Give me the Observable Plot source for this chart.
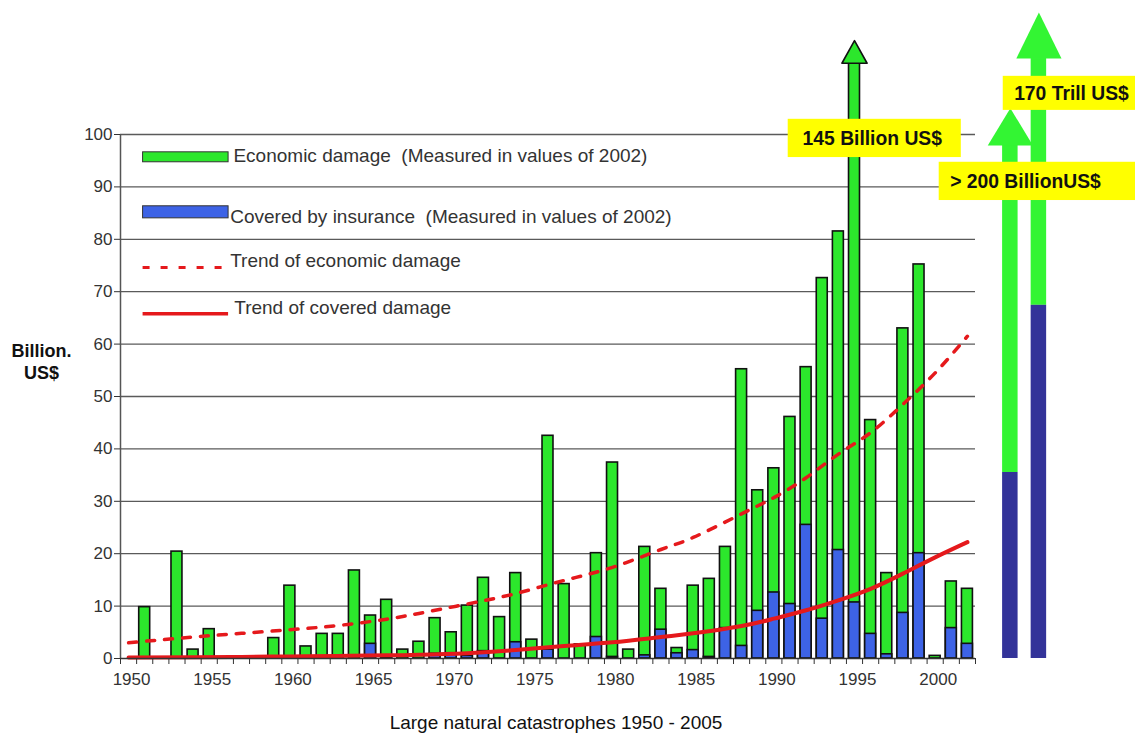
<!DOCTYPE html>
<html><head><meta charset="utf-8">
<script src="https://cdn.jsdelivr.net/npm/d3@7"></script>
<script src="https://cdn.jsdelivr.net/npm/@observablehq/plot@0.6"></script>
<style>
html,body{margin:0;padding:0;background:#fff;}
#chart svg{display:block;overflow:visible;}
</style>
</head><body><div id="chart"></div>
<script>
// ---------- data ----------
const barYears = [1951,1953,1954,1955,1959,1960,1961,1962,1963,1964,1965,1966,1967,1968,1969,1970,1971,1972,1973,1974,1975,1976,1977,1978,1979,1980,1981,1982,1983,1984,1985,1986,1987,1988,1989,1990,1991,1992,1993,1994,1995,1996,1997,1998,1999,2000,2001,2002];
const economic = [9.8,20.4,1.7,5.6,3.9,13.9,2.3,4.7,4.7,16.8,8.2,11.2,1.7,3.2,7.7,5.0,10.1,15.4,7.9,16.3,3.6,42.5,14.2,2.7,20.1,37.4,1.7,21.3,13.3,2.0,13.9,15.2,21.3,55.2,32.1,36.3,46.1,55.6,72.6,81.5,145,45.5,16.3,63.0,75.2,0.5,14.7,13.3];
const insured = [0,0,0,0,0,0,0,0,0,0,2.8,0.3,0,0,0.9,1.0,0.5,1.4,0,3.1,0,1.7,0,0,4.1,0.3,0,0.6,5.5,1.0,1.6,0.3,5.8,2.4,9.1,12.6,10.4,25.5,7.6,20.7,10.7,4.7,0.8,8.7,20.1,0,5.8,2.8];

const trendYears = [1950,1954,1957,1960,1963,1966,1968,1971,1974,1977,1980,1983,1985,1988,1990,1992,1994,1996,1998,2000,2002];
const trendEconomic = [3.0,4.1,4.8,5.5,6.3,7.5,8.6,10.4,12.4,14.9,17.4,20.8,23.1,27.6,30.7,34.5,39.0,43.1,48.5,54.5,61.5];
const trendCovered = [0.2,0.25,0.3,0.4,0.5,0.6,0.7,1.0,1.6,2.4,3.1,4.1,4.8,6.2,7.6,9.2,11.1,13.3,16.2,19.3,22.2];

const yTicks = [0,10,20,30,40,50,60,70,80,90,100];
const xTickLabels = [1950,1955,1960,1965,1970,1975,1980,1985,1990,1995,2000];

const legendLabels = ["Economic damage  (Measured in values of 2002)", "Covered by insurance  (Measured in values of 2002)", "Trend of economic damage", "Trend of covered damage"];

// off-scale comparison arrows on the right
const extraLabels = ["> 200 BillionUS$", "170 Trill US$"];
const extraInsured = [35.5, 67.4];
const peakLabel = "145 Billion US$";

const yTitle = "Billion.\nUS$";
const xTitle = "Large natural catastrophes 1950 - 2005";

// ---------- layout (data-space anchors, not data) ----------
const C = {green:"#2ce72c", blue:"#3d63e6", red:"#e5191c", navy:"#333399", bright:"#33f533", yellow:"#ffff00", text:"#333"};
const halfBar = 0.34;
const cap1995 = 113.6, tip1995 = 117.9, head1995 = 0.78;
const extraX = [2004.66, 2006.43], extraHalf = 0.48;
const extraBase = [97.9, 114.5], extraTip = [105.0, 123.3], extraHead = 1.4;
const legX1 = 1950.9, legX2 = 1956.2;
const legTextX = [1956.5, 1956.3, 1956.3, 1956.55];

const bars = barYears.map((y,i)=>({year:y, econ:economic[i], ins:insured[i]}));
const trend = trendYears.map((y,i)=>({year:y, econ:trendEconomic[i], cov:trendCovered[i]}));

function head(id, xc, base, tip, hw){
  return [{id,x:xc-hw,y:base},{id,x:xc,y:tip},{id,x:xc+hw,y:base},{id,x:xc-hw,y:base}];
}
const peak = bars.find(d=>d.econ>100);
const heads1995 = head("p", peak.year, cap1995, tip1995, head1995);
const extraHeads = [...head("a", extraX[0], extraBase[0], extraTip[0], extraHead), ...head("b", extraX[1], extraBase[1], extraTip[1], extraHead)];
const extras = extraLabels.map((l,i)=>({label:l, x:extraX[i], ins:extraInsured[i], top:extraBase[i]}));

const boundaries = d3.range(1949.5, 2003, 1);

const boxes = [
  {label: peakLabel, x1:1990.89, x2:2001.62, y1:95.6, y2:102.9, tx:1996.1, ty:99.2},
  {label: extraLabels[0], x1:2000.25, x2:2012.6, y1:87.4, y2:94.7, tx:2005.6, ty:91.0},
  {label: extraLabels[1], x1:2004.22, x2:2012.6, y1:104.6, y2:111.1, tx:2008.45, ty:107.8}
];

const legendY = [95.65, 85.15, 74.6, 65.8];
const legendTextY = [96.0, 84.2, 75.8, 67.0];

const chart = Plot.plot({
  width: 1135, height: 735,
  marginLeft: 120, marginRight: 160, marginTop: 134, marginBottom: 77,
  x: {type:"linear", domain:[1949.5, 2002.5]},
  y: {domain:[0,100]},
  style: {fontFamily:"'Liberation Sans', Arial, sans-serif", color:C.text, background:"#fff"},
  marks: [
    Plot.gridY({ticks: yTicks.filter(t=>t>0), stroke:"#5a5a5a", strokeOpacity:1, strokeWidth:1.3}),
    // bars
    Plot.rectY(bars, {x1:d=>d.year-halfBar, x2:d=>d.year+halfBar, y1:0, y2:d=>Math.min(d.econ, cap1995), fill:C.green, stroke:"#111", strokeWidth:1.6}),
    Plot.rectY(bars.filter(d=>d.ins>0), {x1:d=>d.year-halfBar, x2:d=>d.year+halfBar, y1:0, y2:"ins", fill:C.blue, stroke:"#111", strokeWidth:1.6}),
    Plot.line(heads1995, {x:"x", y:"y", fill:C.green, stroke:"#111", strokeWidth:1.6, curve:"linear"}),
    // trends
    Plot.line(trend, {x:"year", y:"econ", stroke:C.red, strokeWidth:3.5, strokeDasharray:"8,10", curve:"natural"}),
    Plot.line(trend, {x:"year", y:"cov", stroke:C.red, strokeWidth:4, curve:"natural"}),
    // axes / frame
    Plot.ruleX([1949.5], {y1:0, y2:100, stroke:"#555", strokeWidth:1.5}),
    Plot.ruleY([0], {stroke:"#333", strokeWidth:1.5}),
    Plot.axisY({ticks: yTicks, tickSize:6, tickPadding:2, fontSize:17, label:null}),
    Plot.axisX({ticks: boundaries, tickSize:6, tickFormat:()=>"", label:null}),
    Plot.axisX({ticks: xTickLabels, tickSize:0, tickPadding:14, fontSize:17, dx:3, tickFormat:d=>String(d), label:null}),
    Plot.text([yTitle], {frameAnchor:"left", y:56.8, dx:-79, text:d=>d, fontSize:18, fontWeight:"bold", fill:"#111", lineHeight:1.2, textAnchor:"middle"}),
    Plot.text([xTitle], {frameAnchor:"bottom", dx:8, dy:64, text:d=>d, fontSize:19, fill:"#111", lineAnchor:"middle"}),
    // legend
    Plot.rect([0], {x1:legX1, x2:legX2, y1:94.7, y2:96.6, fill:C.green, stroke:"#333", strokeWidth:1}),
    Plot.rect([0], {x1:legX1, x2:legX2, y1:84.0, y2:86.3, fill:C.blue, stroke:"#333", strokeWidth:1}),
    Plot.ruleY([legendY[2]], {x1:legX1, x2:legX2, stroke:C.red, strokeWidth:3, strokeDasharray:"7,11"}),
    Plot.ruleY([legendY[3]], {x1:legX1, x2:legX2, stroke:C.red, strokeWidth:3.5}),
    Plot.text(legendLabels, {x:(d,i)=>legTextX[i], y:(d,i)=>legendTextY[i], text:d=>d, textAnchor:"start", fontSize:19, fill:C.text}),
    // off-scale arrows
    Plot.rectY(extras, {x1:d=>d.x-extraHalf, x2:d=>d.x+extraHalf, y1:d=>d.ins, y2:"top", fill:C.bright}),
    Plot.rectY(extras, {x1:d=>d.x-extraHalf, x2:d=>d.x+extraHalf, y1:0, y2:"ins", fill:C.navy}),
    Plot.line(extraHeads, {x:"x", y:"y", z:"id", fill:C.bright, stroke:"none"}),
    // label boxes
    Plot.rect(boxes, {x1:"x1", x2:"x2", y1:"y1", y2:"y2", fill:C.yellow}),
    Plot.text(boxes, {x:"tx", y:"ty", text:"label", textAnchor:"middle", fontSize:19.3, fontWeight:"bold", fill:"#111"})
  ]
});
document.getElementById("chart").append(chart);
</script>
</body></html>
